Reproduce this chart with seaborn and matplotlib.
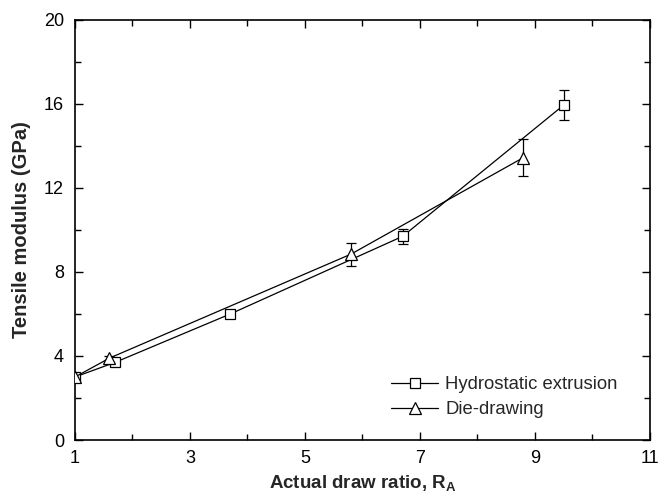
import numpy as np
import pandas as pd
import matplotlib
matplotlib.use("Agg")
import matplotlib.pyplot as plt
import seaborn as sns
from matplotlib.ticker import MultipleLocator, FixedLocator

# Data
hydro_x = [1.0, 1.7, 3.7, 6.7, 9.5]
hydro_y = [3.0, 3.7, 6.0, 9.7, 15.95]
hydro_err = [0.1, 0.15, 0.1, 0.35, 0.7]

die_x = [1.0, 1.6, 5.8, 8.8]
die_y = [3.0, 3.9, 8.85, 13.45]
die_err = [0.1, 0.1, 0.55, 0.9]

labels = ["Hydrostatic extrusion", "Die-drawing"]
x_major = [1, 3, 5, 7, 9, 11]
x_minor = [2, 4, 6, 8, 10]

sns.set_style("ticks")
plt.rcParams['font.family'] = ['Liberation Sans', 'DejaVu Sans']
plt.rcParams['mathtext.fontset'] = 'custom'
plt.rcParams['mathtext.rm'] = 'Liberation Sans'
plt.rcParams['mathtext.bf'] = 'Liberation Sans:bold'

df = pd.concat([
    pd.DataFrame({"x": hydro_x, "y": hydro_y, "method": labels[0]}),
    pd.DataFrame({"x": die_x, "y": die_y, "method": labels[1]}),
], ignore_index=True)

fig = plt.figure(figsize=(6.59, 4.96), dpi=100)
ax = fig.add_axes([0.1138, 0.1129, 0.8725, 0.8468])

# error bars
ax.errorbar(hydro_x, hydro_y, yerr=hydro_err, fmt='none', ecolor='black',
            elinewidth=0.9, capsize=3.5, capthick=0.9, zorder=2)
ax.errorbar(die_x, die_y, yerr=die_err, fmt='none', ecolor='black',
            elinewidth=0.9, capsize=3.5, capthick=0.9, zorder=2)

sns.lineplot(data=df, x="x", y="y", style="method",
             markers={labels[0]: 's', labels[1]: '^'}, dashes=False,
             color='black', linewidth=0.9, markerfacecolor='white',
             markeredgecolor='black', markeredgewidth=0.9, markersize=7,
             legend=False, ax=ax, zorder=3, sort=False)

lines = ax.get_lines()
for ln in lines:
    if ln.get_marker() == '^':
        ln.set_markersize(9)
    elif ln.get_marker() == 's':
        ln.set_markersize(7.2)

handles = [l for l in lines if l.get_marker() in ('s', '^')]
handles = sorted(handles, key=lambda l: 0 if l.get_marker() == 's' else 1)
ax.legend(handles, labels, loc='upper left',
          bbox_to_anchor=(391 / 659, 1 - 376 / 496), bbox_transform=fig.transFigure,
          borderaxespad=0, borderpad=0,
          frameon=False, fontsize=13.3, handlelength=2.55, handletextpad=0.4,
          labelspacing=0.45)

ax.set_xlim(1, 11)
ax.set_ylim(0, 20)
ax.xaxis.set_major_locator(FixedLocator(x_major))
ax.xaxis.set_minor_locator(FixedLocator(x_minor))
ax.yaxis.set_major_locator(MultipleLocator(4))
ax.yaxis.set_minor_locator(MultipleLocator(2))
ax.tick_params(which='both', direction='in', top=True, right=True,
               labelsize=13, width=1, colors='black')
ax.tick_params(which='major', length=6)
ax.tick_params(which='minor', length=4)
ax.tick_params(axis='x', which='major', pad=7)
ax.tick_params(axis='y', which='major', pad=8)
for s in ax.spines.values():
    s.set_linewidth(1.2)
    s.set_color('black')

ax.set_xlabel("Actual draw ratio, R$_\\mathbf{A}$", fontsize=13.5, fontweight='bold',
              labelpad=5)
ax.set_ylabel("Tensile modulus (GPa)", fontsize=14.5, fontweight='bold', labelpad=9)

fig.savefig("out.png", dpi=100)
